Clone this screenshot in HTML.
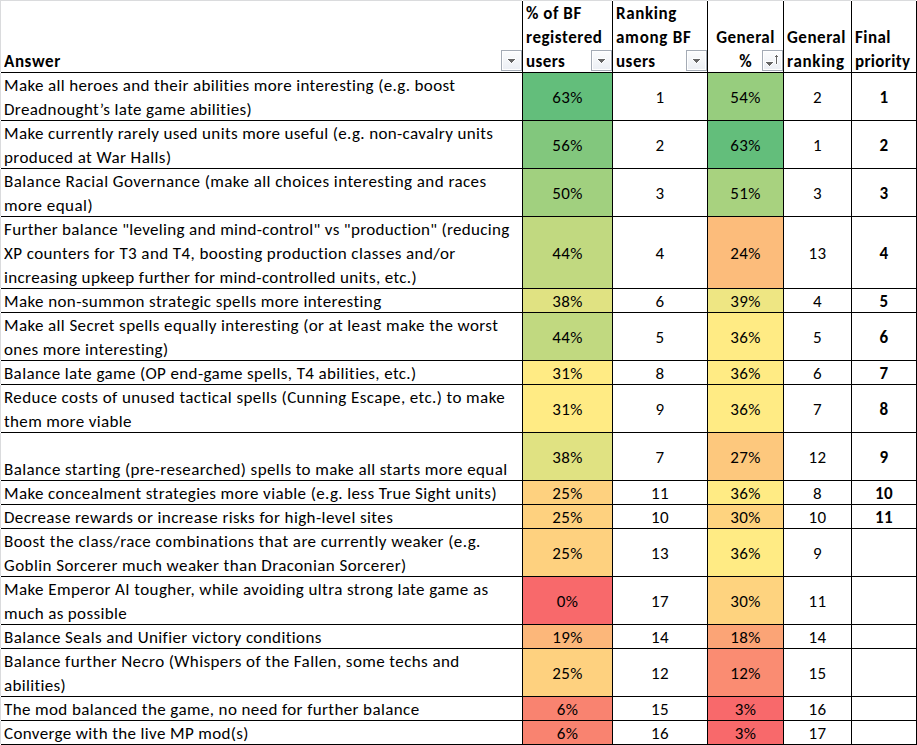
<!DOCTYPE html>
<html><head><meta charset="utf-8"><title>Survey</title>
<style>
html,body{margin:0;padding:0;background:#fff;}
body{width:917px;height:745px;overflow:hidden;position:relative;font-family:Carlito,"Liberation Sans",sans-serif;font-size:17px;color:#000;}
.v,.h,.f,.t,.b{position:absolute;}
.v{width:1px;background:#000;}
.h{height:1px;background:#000;}
.t{white-space:pre;line-height:24px;letter-spacing:0.34px;}
.t.bd{letter-spacing:0.3px;}
.c{text-align:center;}
.bd{font-weight:bold;}
.b{width:19px;height:19px;border:1px solid #a4abb5;background:#fff;}
.b i{position:absolute;left:1px;top:1px;width:17px;height:17px;background:linear-gradient(#fbfcfd,#eceff4);}
.b svg{position:absolute;left:0;top:0;}
</style></head><body>

<div class="f" style="left:0;top:0;width:917px;height:1px;background:#dadbdd"></div>
<div class="f" style="left:0;top:0;width:1px;height:745px;background:#dadbdd"></div>
<div class="f" style="left:523px;top:73px;width:89px;height:47px;background:#63be7b"></div>
<div class="f" style="left:708px;top:73px;width:75px;height:47px;background:#97cd7e"></div>
<div class="f" style="left:523px;top:121px;width:89px;height:47px;background:#82c77d"></div>
<div class="f" style="left:708px;top:121px;width:75px;height:47px;background:#63be7b"></div>
<div class="f" style="left:523px;top:169px;width:89px;height:47px;background:#a1d07f"></div>
<div class="f" style="left:708px;top:169px;width:75px;height:47px;background:#a8d27f"></div>
<div class="f" style="left:523px;top:217px;width:89px;height:71px;background:#c1d980"></div>
<div class="f" style="left:708px;top:217px;width:75px;height:71px;background:#fcbc7b"></div>
<div class="f" style="left:523px;top:289px;width:89px;height:23px;background:#e0e282"></div>
<div class="f" style="left:708px;top:289px;width:75px;height:23px;background:#eee683"></div>
<div class="f" style="left:523px;top:313px;width:89px;height:47px;background:#c1d980"></div>
<div class="f" style="left:708px;top:313px;width:75px;height:47px;background:#ffeb84"></div>
<div class="f" style="left:523px;top:361px;width:89px;height:23px;background:#ffeb84"></div>
<div class="f" style="left:708px;top:361px;width:75px;height:23px;background:#ffeb84"></div>
<div class="f" style="left:523px;top:385px;width:89px;height:47px;background:#ffeb84"></div>
<div class="f" style="left:708px;top:385px;width:75px;height:47px;background:#ffeb84"></div>
<div class="f" style="left:523px;top:433px;width:89px;height:47px;background:#e0e282"></div>
<div class="f" style="left:708px;top:433px;width:75px;height:47px;background:#fdc87d"></div>
<div class="f" style="left:523px;top:481px;width:89px;height:23px;background:#fed17f"></div>
<div class="f" style="left:708px;top:481px;width:75px;height:23px;background:#ffeb84"></div>
<div class="f" style="left:523px;top:505px;width:89px;height:23px;background:#fed17f"></div>
<div class="f" style="left:708px;top:505px;width:75px;height:23px;background:#fed37f"></div>
<div class="f" style="left:523px;top:529px;width:89px;height:47px;background:#fed17f"></div>
<div class="f" style="left:708px;top:529px;width:75px;height:47px;background:#ffeb84"></div>
<div class="f" style="left:523px;top:577px;width:89px;height:47px;background:#f8696b"></div>
<div class="f" style="left:708px;top:577px;width:75px;height:47px;background:#fed37f"></div>
<div class="f" style="left:523px;top:625px;width:89px;height:23px;background:#fcb77a"></div>
<div class="f" style="left:708px;top:625px;width:75px;height:23px;background:#fba476"></div>
<div class="f" style="left:523px;top:649px;width:89px;height:47px;background:#fed17f"></div>
<div class="f" style="left:708px;top:649px;width:75px;height:47px;background:#fa8c72"></div>
<div class="f" style="left:523px;top:697px;width:89px;height:23px;background:#f98370"></div>
<div class="f" style="left:708px;top:697px;width:75px;height:23px;background:#f8696b"></div>
<div class="f" style="left:523px;top:721px;width:89px;height:23px;background:#f98370"></div>
<div class="f" style="left:708px;top:721px;width:75px;height:23px;background:#f8696b"></div>
<div class="v" style="left:522px;top:1px;height:744px"></div>
<div class="v" style="left:612px;top:1px;height:744px"></div>
<div class="v" style="left:707px;top:1px;height:744px"></div>
<div class="v" style="left:783px;top:1px;height:744px"></div>
<div class="v" style="left:851px;top:1px;height:744px"></div>
<div class="v" style="left:916px;top:1px;height:744px"></div>
<div class="h" style="left:1px;top:72px;width:916px"></div>
<div class="h" style="left:1px;top:120px;width:916px"></div>
<div class="h" style="left:1px;top:168px;width:916px"></div>
<div class="h" style="left:1px;top:216px;width:916px"></div>
<div class="h" style="left:1px;top:288px;width:916px"></div>
<div class="h" style="left:1px;top:312px;width:916px"></div>
<div class="h" style="left:1px;top:360px;width:916px"></div>
<div class="h" style="left:1px;top:384px;width:916px"></div>
<div class="h" style="left:1px;top:432px;width:916px"></div>
<div class="h" style="left:1px;top:480px;width:916px"></div>
<div class="h" style="left:1px;top:504px;width:916px"></div>
<div class="h" style="left:1px;top:528px;width:916px"></div>
<div class="h" style="left:1px;top:576px;width:916px"></div>
<div class="h" style="left:1px;top:624px;width:916px"></div>
<div class="h" style="left:1px;top:648px;width:916px"></div>
<div class="h" style="left:1px;top:696px;width:916px"></div>
<div class="h" style="left:1px;top:720px;width:916px"></div>
<div class="h" style="left:1px;top:744px;width:916px"></div>
<div class="f" style="left:522px;top:0;width:1px;height:1px;background:#fff"></div>
<div class="f" style="left:612px;top:0;width:1px;height:1px;background:#fff"></div>
<div class="f" style="left:707px;top:0;width:1px;height:1px;background:#fff"></div>
<div class="f" style="left:783px;top:0;width:1px;height:1px;background:#fff"></div>
<div class="f" style="left:851px;top:0;width:1px;height:1px;background:#fff"></div>
<div class="f" style="left:916px;top:0;width:1px;height:1px;background:#fff"></div>
<div class="f" style="left:0;top:72px;width:1px;height:1px;background:#fff"></div>
<div class="f" style="left:0;top:120px;width:1px;height:1px;background:#fff"></div>
<div class="f" style="left:0;top:168px;width:1px;height:1px;background:#fff"></div>
<div class="f" style="left:0;top:216px;width:1px;height:1px;background:#fff"></div>
<div class="f" style="left:0;top:288px;width:1px;height:1px;background:#fff"></div>
<div class="f" style="left:0;top:312px;width:1px;height:1px;background:#fff"></div>
<div class="f" style="left:0;top:360px;width:1px;height:1px;background:#fff"></div>
<div class="f" style="left:0;top:384px;width:1px;height:1px;background:#fff"></div>
<div class="f" style="left:0;top:432px;width:1px;height:1px;background:#fff"></div>
<div class="f" style="left:0;top:480px;width:1px;height:1px;background:#fff"></div>
<div class="f" style="left:0;top:504px;width:1px;height:1px;background:#fff"></div>
<div class="f" style="left:0;top:528px;width:1px;height:1px;background:#fff"></div>
<div class="f" style="left:0;top:576px;width:1px;height:1px;background:#fff"></div>
<div class="f" style="left:0;top:624px;width:1px;height:1px;background:#fff"></div>
<div class="f" style="left:0;top:648px;width:1px;height:1px;background:#fff"></div>
<div class="f" style="left:0;top:696px;width:1px;height:1px;background:#fff"></div>
<div class="f" style="left:0;top:720px;width:1px;height:1px;background:#fff"></div>
<div class="f" style="left:0;top:744px;width:1px;height:1px;background:#fff"></div>
<div class="t bd" style="left:4px;top:49.5px;width:518px;overflow:hidden;"><span style="letter-spacing:0.600px">Answer</span></div>
<div class="t bd" style="left:526px;top:1.5px;width:86px;overflow:hidden;"><span style="letter-spacing:0.550px">% of BF</span>
<span style="letter-spacing:0.544px">registered</span>
<span style="letter-spacing:0.425px">users</span></div>
<div class="t bd" style="left:616px;top:1.5px;width:91px;overflow:hidden;"><span style="letter-spacing:0.600px">Ranking</span>
<span style="letter-spacing:0.714px">among BF</span>
<span style="letter-spacing:0.500px">users</span></div>
<div class="t bd c" style="left:708px;top:25.5px;width:75px;overflow:hidden;"><span style="letter-spacing:0.467px">General</span>
<span style="letter-spacing:0.300px">%</span></div>
<div class="t bd" style="left:787px;top:25.5px;width:64px;overflow:hidden;"><span style="letter-spacing:0.517px">General</span>
<span style="letter-spacing:0.717px">ranking</span></div>
<div class="t bd" style="left:855px;top:25.5px;width:61px;overflow:hidden;"><span style="letter-spacing:0.450px">Final</span>
<span style="letter-spacing:0.343px">priority</span></div>
<div class="b" style="left:501px;top:50px"><i></i><svg width="19" height="19" viewBox="0 0 19 19"><rect x="5" y="7" width="9" height="1" fill="rgba(255,255,255,0.9)"/><rect x="5" y="8" width="1" height="1" fill="rgba(255,255,255,0.9)"/><rect x="13" y="8" width="1" height="1" fill="rgba(255,255,255,0.9)"/><rect x="6" y="9" width="1" height="1" fill="rgba(255,255,255,0.9)"/><rect x="12" y="9" width="1" height="1" fill="rgba(255,255,255,0.9)"/><rect x="7" y="10" width="1" height="1" fill="rgba(255,255,255,0.9)"/><rect x="11" y="10" width="1" height="1" fill="rgba(255,255,255,0.9)"/><rect x="8" y="11" width="1" height="1" fill="rgba(255,255,255,0.9)"/><rect x="10" y="11" width="1" height="1" fill="rgba(255,255,255,0.9)"/><rect x="9" y="12" width="1" height="1" fill="rgba(255,255,255,0.9)"/><rect x="6" y="8" width="7" height="1" fill="#656565"/><rect x="7" y="9" width="5" height="1" fill="#656565"/><rect x="8" y="10" width="3" height="1" fill="#656565"/><rect x="9" y="11" width="1" height="1" fill="#656565"/></svg></div>
<div class="b" style="left:591px;top:50px"><i></i><svg width="19" height="19" viewBox="0 0 19 19"><rect x="5" y="7" width="9" height="1" fill="rgba(255,255,255,0.9)"/><rect x="5" y="8" width="1" height="1" fill="rgba(255,255,255,0.9)"/><rect x="13" y="8" width="1" height="1" fill="rgba(255,255,255,0.9)"/><rect x="6" y="9" width="1" height="1" fill="rgba(255,255,255,0.9)"/><rect x="12" y="9" width="1" height="1" fill="rgba(255,255,255,0.9)"/><rect x="7" y="10" width="1" height="1" fill="rgba(255,255,255,0.9)"/><rect x="11" y="10" width="1" height="1" fill="rgba(255,255,255,0.9)"/><rect x="8" y="11" width="1" height="1" fill="rgba(255,255,255,0.9)"/><rect x="10" y="11" width="1" height="1" fill="rgba(255,255,255,0.9)"/><rect x="9" y="12" width="1" height="1" fill="rgba(255,255,255,0.9)"/><rect x="6" y="8" width="7" height="1" fill="#656565"/><rect x="7" y="9" width="5" height="1" fill="#656565"/><rect x="8" y="10" width="3" height="1" fill="#656565"/><rect x="9" y="11" width="1" height="1" fill="#656565"/></svg></div>
<div class="b" style="left:686px;top:50px"><i></i><svg width="19" height="19" viewBox="0 0 19 19"><rect x="5" y="7" width="9" height="1" fill="rgba(255,255,255,0.9)"/><rect x="5" y="8" width="1" height="1" fill="rgba(255,255,255,0.9)"/><rect x="13" y="8" width="1" height="1" fill="rgba(255,255,255,0.9)"/><rect x="6" y="9" width="1" height="1" fill="rgba(255,255,255,0.9)"/><rect x="12" y="9" width="1" height="1" fill="rgba(255,255,255,0.9)"/><rect x="7" y="10" width="1" height="1" fill="rgba(255,255,255,0.9)"/><rect x="11" y="10" width="1" height="1" fill="rgba(255,255,255,0.9)"/><rect x="8" y="11" width="1" height="1" fill="rgba(255,255,255,0.9)"/><rect x="10" y="11" width="1" height="1" fill="rgba(255,255,255,0.9)"/><rect x="9" y="12" width="1" height="1" fill="rgba(255,255,255,0.9)"/><rect x="6" y="8" width="7" height="1" fill="#656565"/><rect x="7" y="9" width="5" height="1" fill="#656565"/><rect x="8" y="10" width="3" height="1" fill="#656565"/><rect x="9" y="11" width="1" height="1" fill="#656565"/></svg></div>
<div class="b" style="left:762px;top:50px"><i></i><svg width="19" height="19" viewBox="0 0 19 19"><rect x="2" y="10" width="9" height="1" fill="rgba(255,255,255,0.9)"/><rect x="2" y="11" width="1" height="1" fill="rgba(255,255,255,0.9)"/><rect x="10" y="11" width="1" height="1" fill="rgba(255,255,255,0.9)"/><rect x="3" y="12" width="1" height="1" fill="rgba(255,255,255,0.9)"/><rect x="9" y="12" width="1" height="1" fill="rgba(255,255,255,0.9)"/><rect x="4" y="13" width="1" height="1" fill="rgba(255,255,255,0.9)"/><rect x="8" y="13" width="1" height="1" fill="rgba(255,255,255,0.9)"/><rect x="5" y="14" width="1" height="1" fill="rgba(255,255,255,0.9)"/><rect x="7" y="14" width="1" height="1" fill="rgba(255,255,255,0.9)"/><rect x="6" y="15" width="1" height="1" fill="rgba(255,255,255,0.9)"/><rect x="3" y="11" width="7" height="1" fill="#656565"/><rect x="4" y="12" width="5" height="1" fill="#656565"/><rect x="5" y="13" width="3" height="1" fill="#656565"/><rect x="6" y="14" width="1" height="1" fill="#656565"/><rect x="12" y="3" width="3" height="1" fill="rgba(255,255,255,0.8)"/><rect x="12" y="4" width="1" height="1" fill="rgba(255,255,255,0.8)"/><rect x="14" y="4" width="1" height="1" fill="rgba(255,255,255,0.8)"/><rect x="11" y="5" width="1" height="1" fill="rgba(255,255,255,0.8)"/><rect x="15" y="5" width="1" height="1" fill="rgba(255,255,255,0.8)"/><rect x="12" y="6" width="1" height="7" fill="rgba(255,255,255,0.8)"/><rect x="14" y="6" width="1" height="7" fill="rgba(255,255,255,0.8)"/><rect x="13" y="13" width="1" height="1" fill="rgba(255,255,255,0.8)"/><rect x="13" y="4" width="1" height="9" fill="#656565"/><rect x="12" y="5" width="3" height="1" fill="#656565"/></svg></div>
<div class="t" style="left:4px;top:73.5px;width:517px;overflow:hidden"><span style="letter-spacing:0.361px">Make all heroes and their abilities more interesting (e.g. boost</span>
<span style="letter-spacing:0.376px">Dreadnought’s late game abilities)</span></div>
<div class="t c" style="left:523px;top:85.5px;width:89px">63%</div>
<div class="t c" style="left:613px;top:85.5px;width:94px">1</div>
<div class="t c" style="left:708px;top:85.5px;width:75px">54%</div>
<div class="t c" style="left:784px;top:85.5px;width:67px">2</div>
<div class="t c bd" style="left:852px;top:85.5px;width:64px">1</div>
<div class="t" style="left:4px;top:121.5px;width:517px;overflow:hidden"><span style="letter-spacing:0.358px">Make currently rarely used units more useful (e.g. non-cavalry units</span>
<span style="letter-spacing:0.426px">produced at War Halls)</span></div>
<div class="t c" style="left:523px;top:133.5px;width:89px">56%</div>
<div class="t c" style="left:613px;top:133.5px;width:94px">2</div>
<div class="t c" style="left:708px;top:133.5px;width:75px">63%</div>
<div class="t c" style="left:784px;top:133.5px;width:67px">1</div>
<div class="t c bd" style="left:852px;top:133.5px;width:64px">2</div>
<div class="t" style="left:4px;top:169.5px;width:517px;overflow:hidden"><span style="letter-spacing:0.440px">Balance Racial Governance (make all choices interesting and races</span>
<span style="letter-spacing:0.450px">more equal)</span></div>
<div class="t c" style="left:523px;top:181.5px;width:89px">50%</div>
<div class="t c" style="left:613px;top:181.5px;width:94px">3</div>
<div class="t c" style="left:708px;top:181.5px;width:75px">51%</div>
<div class="t c" style="left:784px;top:181.5px;width:67px">3</div>
<div class="t c bd" style="left:852px;top:181.5px;width:64px">3</div>
<div class="t" style="left:4px;top:217.5px;width:517px;overflow:hidden"><span style="letter-spacing:0.319px">Further balance "leveling and mind-control" vs "production" (reducing</span>
<span style="letter-spacing:0.410px">XP counters for T3 and T4, boosting production classes and/or</span>
<span style="letter-spacing:0.358px">increasing upkeep further for mind-controlled units, etc.)</span></div>
<div class="t c" style="left:523px;top:241.5px;width:89px">44%</div>
<div class="t c" style="left:613px;top:241.5px;width:94px">4</div>
<div class="t c" style="left:708px;top:241.5px;width:75px">24%</div>
<div class="t c" style="left:784px;top:241.5px;width:67px">13</div>
<div class="t c bd" style="left:852px;top:241.5px;width:64px">4</div>
<div class="t" style="left:4px;top:289.5px;width:517px;overflow:hidden"><span style="letter-spacing:0.400px">Make non-summon strategic spells more interesting</span></div>
<div class="t c" style="left:523px;top:289.5px;width:89px">38%</div>
<div class="t c" style="left:613px;top:289.5px;width:94px">6</div>
<div class="t c" style="left:708px;top:289.5px;width:75px">39%</div>
<div class="t c" style="left:784px;top:289.5px;width:67px">4</div>
<div class="t c bd" style="left:852px;top:289.5px;width:64px">5</div>
<div class="t" style="left:4px;top:313.5px;width:517px;overflow:hidden"><span style="letter-spacing:0.381px">Make all Secret spells equally interesting (or at least make the worst</span>
<span style="letter-spacing:0.369px">ones more interesting)</span></div>
<div class="t c" style="left:523px;top:325.5px;width:89px">44%</div>
<div class="t c" style="left:613px;top:325.5px;width:94px">5</div>
<div class="t c" style="left:708px;top:325.5px;width:75px">36%</div>
<div class="t c" style="left:784px;top:325.5px;width:67px">5</div>
<div class="t c bd" style="left:852px;top:325.5px;width:64px">6</div>
<div class="t" style="left:4px;top:361.5px;width:517px;overflow:hidden"><span style="letter-spacing:0.372px">Balance late game (OP end-game spells, T4 abilities, etc.)</span></div>
<div class="t c" style="left:523px;top:361.5px;width:89px">31%</div>
<div class="t c" style="left:613px;top:361.5px;width:94px">8</div>
<div class="t c" style="left:708px;top:361.5px;width:75px">36%</div>
<div class="t c" style="left:784px;top:361.5px;width:67px">6</div>
<div class="t c bd" style="left:852px;top:361.5px;width:64px">7</div>
<div class="t" style="left:4px;top:385.5px;width:517px;overflow:hidden"><span style="letter-spacing:0.406px">Reduce costs of unused tactical spells (Cunning Escape, etc.) to make</span>
<span style="letter-spacing:0.367px">them more viable</span></div>
<div class="t c" style="left:523px;top:397.5px;width:89px">31%</div>
<div class="t c" style="left:613px;top:397.5px;width:94px">9</div>
<div class="t c" style="left:708px;top:397.5px;width:75px">36%</div>
<div class="t c" style="left:784px;top:397.5px;width:67px">7</div>
<div class="t c bd" style="left:852px;top:397.5px;width:64px">8</div>
<div class="t" style="left:4px;top:457.5px;width:517px;overflow:hidden"><span style="letter-spacing:0.392px">Balance starting (pre-researched) spells to make all starts more equal</span></div>
<div class="t c" style="left:523px;top:445.5px;width:89px">38%</div>
<div class="t c" style="left:613px;top:445.5px;width:94px">7</div>
<div class="t c" style="left:708px;top:445.5px;width:75px">27%</div>
<div class="t c" style="left:784px;top:445.5px;width:67px">12</div>
<div class="t c bd" style="left:852px;top:445.5px;width:64px">9</div>
<div class="t" style="left:4px;top:481.5px;width:517px;overflow:hidden"><span style="letter-spacing:0.389px">Make concealment strategies more viable (e.g. less True Sight units)</span></div>
<div class="t c" style="left:523px;top:481.5px;width:89px">25%</div>
<div class="t c" style="left:613px;top:481.5px;width:94px">11</div>
<div class="t c" style="left:708px;top:481.5px;width:75px">36%</div>
<div class="t c" style="left:784px;top:481.5px;width:67px">8</div>
<div class="t c bd" style="left:852px;top:481.5px;width:64px">10</div>
<div class="t" style="left:4px;top:505.5px;width:517px;overflow:hidden"><span style="letter-spacing:0.405px">Decrease rewards or increase risks for high-level sites</span></div>
<div class="t c" style="left:523px;top:505.5px;width:89px">25%</div>
<div class="t c" style="left:613px;top:505.5px;width:94px">10</div>
<div class="t c" style="left:708px;top:505.5px;width:75px">30%</div>
<div class="t c" style="left:784px;top:505.5px;width:67px">10</div>
<div class="t c bd" style="left:852px;top:505.5px;width:64px">11</div>
<div class="t" style="left:4px;top:529.5px;width:517px;overflow:hidden"><span style="letter-spacing:0.435px">Boost the class/race combinations that are currently weaker (e.g.</span>
<span style="letter-spacing:0.424px">Goblin Sorcerer much weaker than Draconian Sorcerer)</span></div>
<div class="t c" style="left:523px;top:541.5px;width:89px">25%</div>
<div class="t c" style="left:613px;top:541.5px;width:94px">13</div>
<div class="t c" style="left:708px;top:541.5px;width:75px">36%</div>
<div class="t c" style="left:784px;top:541.5px;width:67px">9</div>
<div class="t" style="left:4px;top:577.5px;width:517px;overflow:hidden"><span style="letter-spacing:0.407px">Make Emperor AI tougher, while avoiding ultra strong late game as</span>
<span style="letter-spacing:0.340px">much as possible</span></div>
<div class="t c" style="left:523px;top:589.5px;width:89px">0%</div>
<div class="t c" style="left:613px;top:589.5px;width:94px">17</div>
<div class="t c" style="left:708px;top:589.5px;width:75px">30%</div>
<div class="t c" style="left:784px;top:589.5px;width:67px">11</div>
<div class="t" style="left:4px;top:625.5px;width:517px;overflow:hidden"><span style="letter-spacing:0.398px">Balance Seals and Unifier victory conditions</span></div>
<div class="t c" style="left:523px;top:625.5px;width:89px">19%</div>
<div class="t c" style="left:613px;top:625.5px;width:94px">14</div>
<div class="t c" style="left:708px;top:625.5px;width:75px">18%</div>
<div class="t c" style="left:784px;top:625.5px;width:67px">14</div>
<div class="t" style="left:4px;top:649.5px;width:517px;overflow:hidden"><span style="letter-spacing:0.405px">Balance further Necro (Whispers of the Fallen, some techs and</span>
<span style="letter-spacing:0.340px">abilities)</span></div>
<div class="t c" style="left:523px;top:661.5px;width:89px">25%</div>
<div class="t c" style="left:613px;top:661.5px;width:94px">12</div>
<div class="t c" style="left:708px;top:661.5px;width:75px">12%</div>
<div class="t c" style="left:784px;top:661.5px;width:67px">15</div>
<div class="t" style="left:4px;top:697.5px;width:517px;overflow:hidden"><span style="letter-spacing:0.385px">The mod balanced the game, no need for further balance</span></div>
<div class="t c" style="left:523px;top:697.5px;width:89px">6%</div>
<div class="t c" style="left:613px;top:697.5px;width:94px">15</div>
<div class="t c" style="left:708px;top:697.5px;width:75px">3%</div>
<div class="t c" style="left:784px;top:697.5px;width:67px">16</div>
<div class="t" style="left:4px;top:721.5px;width:517px;overflow:hidden"><span style="letter-spacing:0.366px">Converge with the live MP mod(s)</span></div>
<div class="t c" style="left:523px;top:721.5px;width:89px">6%</div>
<div class="t c" style="left:613px;top:721.5px;width:94px">16</div>
<div class="t c" style="left:708px;top:721.5px;width:75px">3%</div>
<div class="t c" style="left:784px;top:721.5px;width:67px">17</div>
</body></html>
